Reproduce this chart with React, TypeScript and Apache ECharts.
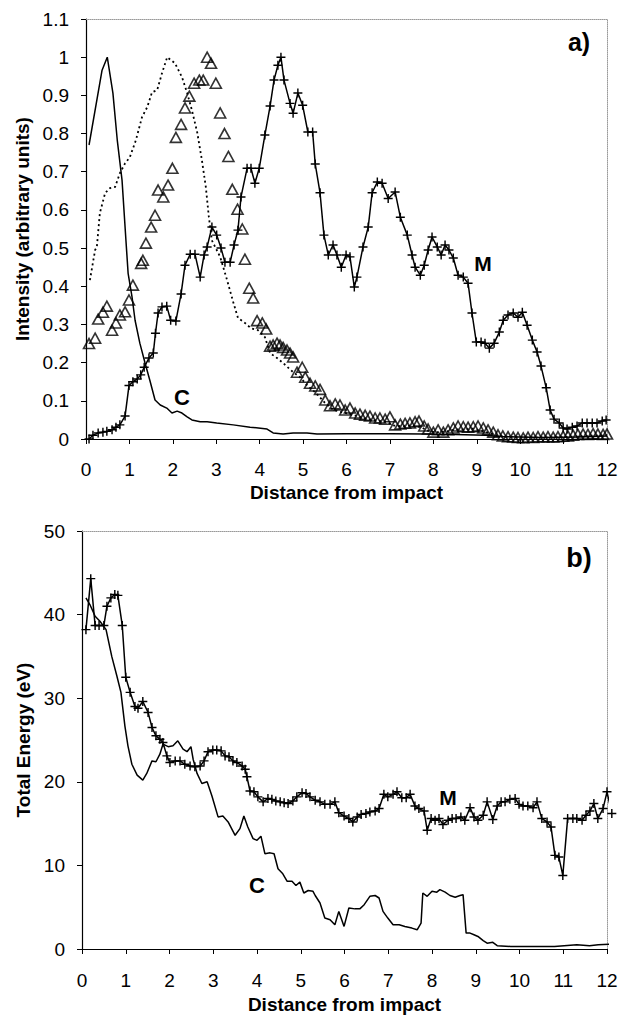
import React, { useEffect, useRef } from "react";
import * as echarts from "echarts";

const xTicks = [0, 12, 1];
const topYRange = [0, 1.1, 0.1];
const botYRange = [0, 50, 10];

// Panel a) — C: solid line
const aC: number[][] = [[0.07,0.77],[0.37,0.966],[0.49,1.0],[0.62,0.906],[0.72,0.783],[0.83,0.678],[0.92,0.52],[0.97,0.434],[1.06,0.372],[1.13,0.311],[1.24,0.251],[1.36,0.199],[1.47,0.154],[1.59,0.102],[1.71,0.089],[1.86,0.081],[1.98,0.068],[2.1,0.073],[2.21,0.068],[2.33,0.058],[2.44,0.05],[2.63,0.045],[2.79,0.045],[3.01,0.042],[3.39,0.037],[3.78,0.031],[4.17,0.026],[4.31,0.016],[4.54,0.013],[4.77,0.016],[5.09,0.016],[5.32,0.013],[6,0.014],[7,0.014],[7.8,0.013],[8.5,0.012],[9.2,0.01],[9.6,0.006],[10.5,0.004],[11.3,0.005],[12,0.008]];
// Panel a) — dotted line
const aDot: number[][] = [[0.09,0.416],[0.21,0.495],[0.25,0.503],[0.32,0.592],[0.44,0.644],[0.55,0.657],[0.67,0.66],[0.78,0.696],[0.9,0.722],[1.01,0.738],[1.15,0.783],[1.29,0.843],[1.41,0.869],[1.52,0.908],[1.64,0.914],[1.75,0.958],[1.87,1.0],[1.96,0.992],[2.05,0.984],[2.21,0.948],[2.33,0.906],[2.44,0.861],[2.56,0.804],[2.67,0.73],[2.76,0.66],[2.83,0.581],[2.9,0.52],[3.09,0.477],[3.25,0.416],[3.39,0.359],[3.5,0.317],[3.66,0.304],[3.8,0.29],[3.96,0.285],[4.12,0.267],[4.24,0.225],[4.4,0.212],[4.54,0.199],[4.77,0.175],[4.93,0.162],[5.1,0.14],[5.3,0.12],[5.5,0.095],[5.7,0.076],[5.9,0.07],[6.1,0.065],[6.3,0.058],[6.5,0.052],[6.7,0.048],[6.9,0.045],[7.1,0.035],[7.3,0.033],[7.5,0.035],[7.7,0.032],[7.9,0.02],[8.1,0.018],[8.3,0.02],[8.5,0.025],[8.7,0.025],[8.9,0.027],[9.1,0.022],[9.3,0.015],[9.5,0.008],[10,0.004],[10.5,0.004],[11,0.005],[11.5,0.008],[12,0.01]];
// Panel a) — triangles
const aTri: number[][] = [[0.07,0.25],[0.21,0.264],[0.28,0.314],[0.39,0.332],[0.48,0.348],[0.6,0.285],[0.69,0.304],[0.78,0.325],[0.9,0.333],[0.99,0.364],[1.08,0.403],[1.27,0.46],[1.31,0.468],[1.38,0.513],[1.5,0.555],[1.59,0.586],[1.66,0.652],[1.78,0.634],[1.89,0.665],[1.99,0.709],[2.07,0.79],[2.19,0.824],[2.28,0.867],[2.38,0.898],[2.49,0.932],[2.61,0.94],[2.7,0.94],[2.79,1.0],[2.88,0.984],[2.99,0.932],[3.09,0.854],[3.19,0.8],[3.28,0.74],[3.37,0.654],[3.49,0.602],[3.6,0.55],[3.66,0.471],[3.76,0.395],[3.85,0.369],[3.94,0.31],[4.06,0.304],[4.15,0.288],[4.24,0.243],[4.31,0.246],[4.4,0.251],[4.47,0.246],[4.54,0.24],[4.63,0.233],[4.7,0.225],[4.77,0.215],[4.86,0.175],[4.98,0.188],[5.05,0.162],[5.16,0.146],[5.28,0.139],[5.39,0.13],[5.51,0.102],[5.62,0.087],[5.74,0.092],[5.85,0.089],[5.97,0.076],[6.08,0.081],[6.2,0.068],[6.31,0.065],[6.43,0.062],[6.54,0.06],[6.66,0.055],[6.77,0.055],[6.89,0.052],[7.0,0.058],[7.12,0.037],[7.24,0.039],[7.35,0.041],[7.46,0.042],[7.58,0.045],[7.67,0.047],[7.79,0.034],[7.88,0.026],[8.0,0.018],[8.11,0.024],[8.23,0.018],[8.34,0.024],[8.46,0.029],[8.57,0.034],[8.69,0.032],[8.8,0.031],[8.92,0.032],[9.03,0.034],[9.15,0.029],[9.26,0.024],[9.38,0.018],[9.49,0.011],[9.6,0.008],[9.72,0.006],[9.84,0.005],[9.95,0.004],[10.07,0.003],[10.18,0.005],[10.3,0.004],[10.41,0.006],[10.53,0.005],[10.64,0.006],[10.76,0.005],[10.87,0.006],[10.99,0.007],[11.1,0.008],[11.22,0.01],[11.33,0.012],[11.45,0.013],[11.56,0.012],[11.68,0.014],[11.79,0.013],[11.91,0.012],[12.0,0.013]];
// Panel a) — M: line with crosses
const aM: number[][] = [[0.07,0],[0.16,0.01],[0.28,0.016],[0.39,0.018],[0.48,0.02],[0.6,0.024],[0.69,0.031],[0.78,0.037],[0.9,0.06],[0.99,0.14],[1.08,0.15],[1.18,0.157],[1.26,0.168],[1.34,0.188],[1.45,0.212],[1.55,0.225],[1.6,0.277],[1.66,0.33],[1.75,0.346],[1.86,0.348],[1.95,0.311],[2.07,0.309],[2.19,0.38],[2.28,0.455],[2.4,0.484],[2.51,0.484],[2.63,0.424],[2.72,0.482],[2.79,0.503],[2.9,0.555],[3.01,0.534],[3.11,0.5],[3.2,0.463],[3.32,0.463],[3.41,0.508],[3.5,0.547],[3.57,0.634],[3.71,0.709],[3.8,0.709],[3.89,0.67],[3.99,0.709],[4.12,0.796],[4.24,0.872],[4.33,0.94],[4.42,0.979],[4.49,1.0],[4.56,0.94],[4.7,0.879],[4.77,0.853],[4.88,0.906],[4.99,0.874],[5.11,0.804],[5.22,0.804],[5.28,0.72],[5.39,0.645],[5.48,0.534],[5.58,0.482],[5.69,0.508],[5.78,0.482],[5.88,0.45],[5.99,0.482],[6.08,0.477],[6.18,0.398],[6.24,0.424],[6.38,0.503],[6.5,0.555],[6.59,0.645],[6.71,0.673],[6.82,0.67],[6.96,0.63],[7.12,0.647],[7.24,0.581],[7.4,0.534],[7.51,0.482],[7.58,0.45],[7.7,0.429],[7.79,0.455],[7.88,0.495],[7.97,0.529],[8.09,0.503],[8.18,0.482],[8.27,0.508],[8.36,0.495],[8.46,0.474],[8.57,0.429],[8.69,0.424],[8.8,0.408],[8.89,0.33],[8.99,0.254],[9.1,0.254],[9.19,0.251],[9.29,0.238],[9.4,0.251],[9.52,0.28],[9.61,0.311],[9.72,0.325],[9.84,0.33],[9.95,0.319],[10.05,0.332],[10.16,0.298],[10.28,0.259],[10.39,0.228],[10.48,0.191],[10.6,0.134],[10.69,0.076],[10.78,0.052],[10.9,0.042],[10.99,0.029],[11.08,0.026],[11.2,0.031],[11.31,0.034],[11.43,0.042],[11.54,0.042],[11.66,0.042],[11.77,0.042],[11.89,0.047],[11.98,0.05]];

// Panel b) — M: line with crosses
const bM: number[][] = [[0.09,38.2],[0.2,44.3],[0.3,38.7],[0.39,38.7],[0.5,38.7],[0.57,41.0],[0.66,42.0],[0.75,42.4],[0.82,42.3],[0.92,38.7],[1.0,32.5],[1.1,30.7],[1.21,29.0],[1.28,28.8],[1.39,29.6],[1.51,28.3],[1.6,26.5],[1.69,25.5],[1.78,25.1],[1.85,24.7],[1.94,23.1],[2.01,22.3],[2.13,22.5],[2.24,22.5],[2.35,22.1],[2.47,21.9],[2.58,21.8],[2.7,21.9],[2.79,22.5],[2.88,23.6],[2.99,23.8],[3.08,23.8],[3.18,23.7],[3.27,23.1],[3.36,23.0],[3.45,22.5],[3.54,22.3],[3.66,21.9],[3.73,21.5],[3.77,20.6],[3.84,18.9],[3.93,18.8],[4.02,18.2],[4.14,17.6],[4.25,18.0],[4.34,17.9],[4.43,17.7],[4.53,17.6],[4.62,17.5],[4.71,17.4],[4.82,17.7],[4.91,18.2],[5.03,18.7],[5.12,18.6],[5.21,18.2],[5.33,17.8],[5.44,17.6],[5.55,17.3],[5.67,17.3],[5.78,17.6],[5.87,16.3],[5.99,15.9],[6.1,15.6],[6.19,15.2],[6.29,15.8],[6.38,16.1],[6.49,16.2],[6.58,16.4],[6.7,16.5],[6.79,16.8],[6.9,18.5],[6.99,18.2],[7.11,18.5],[7.2,18.8],[7.31,18.1],[7.41,18.1],[7.5,18.5],[7.61,17.1],[7.7,16.8],[7.82,16.5],[7.89,14.2],[7.98,15.6],[8.07,15.4],[8.16,15.6],[8.25,14.9],[8.37,15.4],[8.46,15.6],[8.55,15.6],[8.66,15.8],[8.75,15.4],[8.87,16.9],[8.96,15.8],[9.05,15.4],[9.17,16.0],[9.26,17.6],[9.39,15.5],[9.49,17.1],[9.58,17.6],[9.67,17.6],[9.78,17.9],[9.9,18.0],[9.99,17.3],[10.08,17.1],[10.19,17.1],[10.31,16.9],[10.4,17.6],[10.51,15.6],[10.63,15.2],[10.72,14.6],[10.81,11.2],[10.9,11.0],[10.99,8.8],[11.1,15.6],[11.22,15.6],[11.31,15.6],[11.43,15.4],[11.52,16.0],[11.61,16.5],[11.7,17.4],[11.79,15.6],[11.91,16.8],[12.0,18.8],[12.11,16.2]];
// Panel b) — C: solid line
const bC: number[][] = [[0.09,42.0],[0.18,41.2],[0.3,39.8],[0.41,39.2],[0.55,38.2],[0.68,35.0],[0.8,32.6],[0.89,30.7],[0.98,26.7],[1.05,24.3],[1.14,22.1],[1.26,20.8],[1.39,20.2],[1.48,21.0],[1.6,22.5],[1.69,22.4],[1.78,23.3],[1.85,24.5],[1.97,24.2],[2.08,24.3],[2.19,24.9],[2.31,23.9],[2.4,23.6],[2.49,24.2],[2.54,22.7],[2.63,21.0],[2.74,19.8],[2.86,20.0],[2.97,18.3],[3.11,15.8],[3.22,15.9],[3.34,15.2],[3.5,13.6],[3.61,14.4],[3.7,15.9],[3.79,14.6],[3.91,13.2],[4.0,13.0],[4.09,13.5],[4.18,11.4],[4.3,11.5],[4.39,11.4],[4.48,9.6],[4.59,9.0],[4.69,8.1],[4.8,8.1],[4.89,7.6],[4.98,8.0],[5.07,6.7],[5.17,7.0],[5.28,6.9],[5.33,6.4],[5.44,5.5],[5.55,3.7],[5.67,3.5],[5.78,2.9],[5.87,4.5],[5.99,2.7],[6.1,4.9],[6.24,4.8],[6.35,4.8],[6.45,5.3],[6.58,6.3],[6.7,6.4],[6.79,6.1],[6.88,4.5],[6.99,3.7],[7.11,2.9],[7.25,2.9],[7.38,2.7],[7.54,2.5],[7.66,2.3],[7.75,3.1],[7.79,6.7],[7.89,6.3],[8.0,6.9],[8.11,6.8],[8.18,7.1],[8.3,6.8],[8.41,6.4],[8.53,6.2],[8.64,6.4],[8.71,6.5],[8.78,1.9],[8.87,1.9],[8.96,1.7],[9.05,1.5],[9.17,1.0],[9.26,0.7],[9.39,0.8],[9.49,0.4],[9.8,0.3],[10.3,0.3],[10.8,0.3],[11.31,0.5],[11.6,0.4],[11.8,0.5],[12.1,0.6]];

const FONT = "'Liberation Sans', Arial, sans-serif";
const PLUS = "path://M4.2,0H5.8V4.2H10V5.8H5.8V10H4.2V5.8H0V4.2H4.2Z";

function mainX(gridIndex: number, name: string, margin: number, gap: number) {
  return {
    type: "value", gridIndex, min: xTicks[0], max: xTicks[1], interval: xTicks[2],
    name, nameLocation: "middle", nameGap: gap,
    nameTextStyle: { fontFamily: FONT, fontSize: 19, fontWeight: "bold", color: "#000" },
    axisLine: { show: true, onZero: false, lineStyle: { color: "#000", width: 1.2 } },
    axisTick: { show: true, inside: false, length: 5, lineStyle: { color: "#000" } },
    axisLabel: { fontFamily: FONT, fontSize: 19, color: "#000", margin },
    splitLine: { show: false },
  };
}
function mainY(gridIndex: number, r: number[], name: string, gap: number) {
  return {
    type: "value", gridIndex, min: r[0], max: r[1], interval: r[2],
    name, nameLocation: "middle", nameGap: gap,
    nameTextStyle: { fontFamily: FONT, fontSize: 19, fontWeight: "bold", color: "#000" },
    axisLine: { show: true, onZero: false, lineStyle: { color: "#000", width: 1.2 } },
    axisTick: { show: true, inside: false, length: 5, lineStyle: { color: "#000" } },
    axisLabel: { fontFamily: FONT, fontSize: 19, color: "#000", margin: 17 },
    splitLine: { show: false },
  };
}
const borderLine = { show: true, onZero: false, lineStyle: { color: "#999", width: 1, type: "dotted" } };
function borderX(gridIndex: number) {
  return { type: "value", gridIndex, position: "top", min: xTicks[0], max: xTicks[1],
    axisLine: borderLine, axisTick: { show: false }, axisLabel: { show: false }, splitLine: { show: false } };
}
function borderY(gridIndex: number, r: number[]) {
  return { type: "value", gridIndex, position: "right", min: r[0], max: r[1],
    axisLine: borderLine, axisTick: { show: false }, axisLabel: { show: false }, splitLine: { show: false } };
}

export default function App() {
  const ref = useRef<HTMLDivElement>(null);
  useEffect(() => {
    if (!ref.current) return;
    const chart = echarts.init(ref.current, undefined, { renderer: "svg" });
    const lbl = (text: string, x: number, y: number, size: number) => ({
      type: "text", x, y,
      style: { text, fontFamily: FONT, fontSize: size, fontWeight: "bold", fill: "#000", align: "center", verticalAlign: "middle" },
    });
    chart.setOption({
      animation: false,
      backgroundColor: "#fff",
      grid: [
        { left: 86, top: 19, width: 521, height: 420 },
        { left: 82, top: 531, width: 525, height: 420 },
      ],
      xAxis: [mainX(0, "Distance from impact", 21, 44), borderX(0), mainX(1, "Distance from impact", 22, 46), borderX(1)],
      yAxis: [
        mainY(0, topYRange, "Intensity (arbitrary units)", 52), borderY(0, topYRange),
        mainY(1, botYRange, "Total Energy (eV)", 48), borderY(1, botYRange),
      ],
      series: [
        { type: "line", xAxisIndex: 0, yAxisIndex: 0, data: aC, showSymbol: false,
          lineStyle: { color: "#000", width: 1.5 } },
        { type: "line", xAxisIndex: 0, yAxisIndex: 0, data: aDot, showSymbol: false,
          lineStyle: { color: "#000", width: 1.8, type: [2, 3] } },
        { type: "scatter", xAxisIndex: 0, yAxisIndex: 0, data: aTri, symbol: "triangle", symbolSize: [11, 10],
          itemStyle: { color: "rgba(0,0,0,0)", borderColor: "#000", borderWidth: 1.6 } },
        { type: "line", xAxisIndex: 0, yAxisIndex: 0, data: aM, symbol: PLUS, symbolSize: 9, showAllSymbol: true,
          lineStyle: { color: "#000", width: 1.5 }, itemStyle: { color: "#000" } },
        { type: "line", xAxisIndex: 2, yAxisIndex: 2, data: bC, showSymbol: false, clip: false,
          lineStyle: { color: "#000", width: 1.5 } },
        { type: "line", xAxisIndex: 2, yAxisIndex: 2, data: bM, symbol: PLUS, symbolSize: 9, showAllSymbol: true, clip: false,
          lineStyle: { color: "#000", width: 1.5 }, itemStyle: { color: "#000" } },
      ],
      graphic: [
        lbl("a)", 579, 42, 25),
        lbl("b)", 579, 558, 27),
        lbl("C", 182, 397, 22),
        lbl("M", 483, 263, 21),
        lbl("M", 448, 797, 21),
        lbl("C", 257, 885, 22),
      ],
    });
    return () => chart.dispose();
  }, []);
  return <div ref={ref} style={{ position: "absolute", left: 0, top: 0, width: 621, height: 1015 }} />;
}
